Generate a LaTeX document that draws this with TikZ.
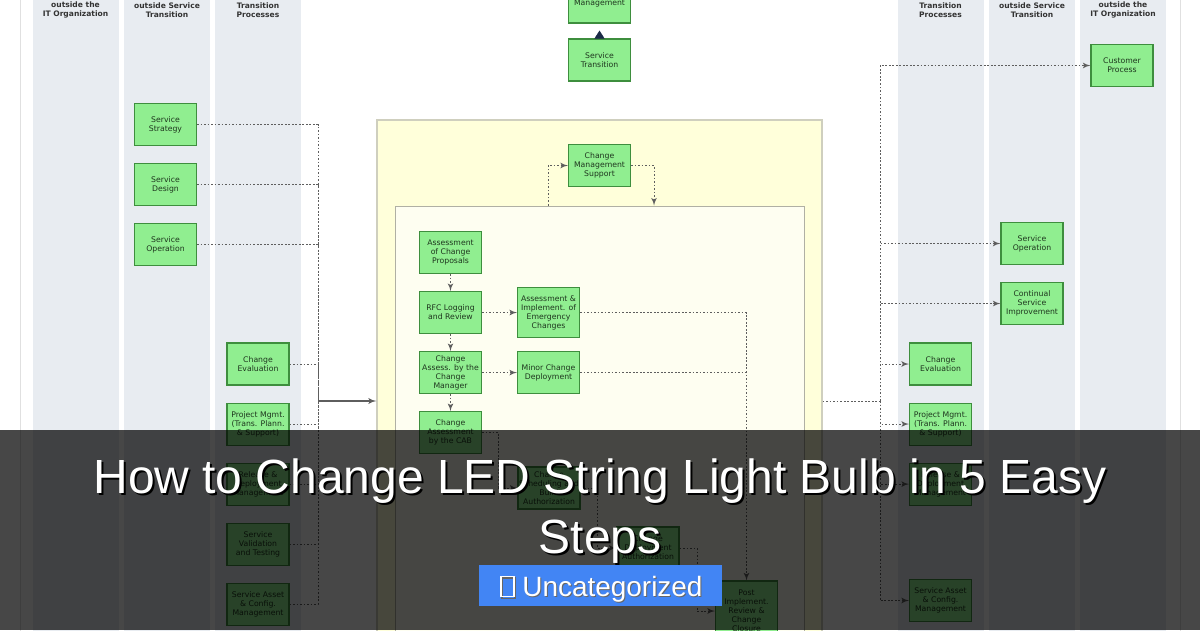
\documentclass[tikz,border=0pt]{standalone}
\usepackage{fontspec}
\setmainfont{DejaVu Sans}
\newfontfamily\titlefont{Liberation Sans}
\usepackage{tikz}
\usetikzlibrary{arrows,arrows.meta,positioning,calc}
\definecolor{colfill}{HTML}{E8ECF1}
\definecolor{boxgreen}{HTML}{90EE90}
\definecolor{boxline}{HTML}{3E8E3E}
\definecolor{boxtext}{HTML}{1E361E}
\definecolor{yellowbg}{HTML}{FFFFDA}
\definecolor{yellowline}{HTML}{CFCFBE}
\definecolor{innerbg}{HTML}{FEFEF1}
\definecolor{innerline}{HTML}{B0B0A4}
\definecolor{linkgray}{HTML}{5E5E5E}
\definecolor{navy}{HTML}{1B2A47}
\definecolor{badgeblue}{HTML}{4285F4}
\newcommand\tofubox{{\fboxrule=0.7pt\fboxsep=0pt\fbox{\rule{0pt}{0.68em}\hspace{0.42em}}}}

\begin{document}
\begin{tikzpicture}[x=0.02cm,y=-0.02cm,>=latex',node distance=0.34cm,
    proc/.style={draw=boxline,line width=0.6pt,fill=boxgreen,text=boxtext,minimum width=1.24cm,minimum height=0.84cm,inner sep=0.5pt,align=center,font=\fontsize{4.4}{5.1}\selectfont},
    head/.style={align=center,text=black!80,font=\fontsize{4.3}{5.1}\selectfont\bfseries},
    conn/.style={draw=linkgray,line width=0.5pt,dash pattern=on 1pt off 1pt},
    feed/.style={draw=linkgray,line width=0.6pt},
    titletxt/.style={anchor=base,text=white,font=\titlefont\fontsize{27.3}{34}\selectfont},
    titleshadow/.style={anchor=base,text=black,font=\titlefont\fontsize{27.3}{34}\selectfont}]
  \useasboundingbox (0,0) rectangle (1200,630);
  \clip (0,0) rectangle (1200,630);
  \fill[white] (0,0) rectangle (1200,630);
  \draw[black!12] (20,-5) rectangle (1180,640);
  % swimlanes
  \foreach \x in {33,124,215,898,989,1080}
    \fill[colfill] (\x,-5) rectangle +(86,645);
  \node[head] (h1) at (75.5,10) {outside the\\IT Organization};
  \node[head] (h2) at (167,10) {outside Service\\Transition};
  \node[head] (h3) at (258,10) {Transition\\Processes};
  \node[head] (h4) at (940.5,10) {Transition\\Processes};
  \node[head] (h5) at (1032,10) {outside Service\\Transition};
  \node[head] (h6) at (1123,10) {outside the\\IT Organization};

  % top
  \node[proc] (ism) at (599.5,2) {\mbox{}\\Management};
  \node[proc] (st) at (599.5,60) {Service\\Transition};
  \draw[navy,line width=0.3pt,-{Triangle[width=0.2cm,length=0.16cm]},shorten >=4pt,shorten <=2pt] (st.north) -- (ism.south);

  % change management area
  \node[draw=yellowline,line width=0.8pt,fill=yellowbg,minimum width=8.9cm,minimum height=10.8cm] (outer) at (599.5,390) {};
  \node[proc] (cms) at (599.5,165.5) {Change\\Management\\Support};
  \node[draw=innerline,line width=0.6pt,fill=innerbg,minimum width=8.2cm,minimum height=9.08cm] (inner) at (600,433) {};
  \draw[conn,->] ([xshift=-0.4cm]cms.west |- inner.north) |- (cms.west);
  \draw[conn,->] (cms.east) -| ([xshift=0.46cm]cms.east |- inner.north);

  \node[proc] (acp) at (450.5,252.5) {Assessment\\of Change\\Proposals};
  \node[proc,below=of acp] (rfc) {RFC Logging\\and Review};
  \node[proc,below=of rfc] (cam) {Change\\Assess. by the\\Change\\Manager};
  \node[proc,below=of cam] (cab) {Change\\Assessment\\by the CAB};
  \node[proc,right=0.7cm of rfc,minimum height=1cm] (emg) {Assessment \&\\Implement. of\\Emergency\\Changes};
  \node[proc,right=0.7cm of cam] (minor) {Minor Change\\Deployment};
  \node[proc] (sched) at (549,488) {Change\\Scheduling and\\Build\\Authorization};
  \node[proc] (deploy) at (648,548) {Change\\Deployment\\Authorization};
  \node[proc,minimum height=1.2cm] (pir) at (746.5,611) {Post\\Implement.\\Review \&\\Change\\Closure};

  \draw[conn,->] (acp) -- (rfc);
  \draw[conn,->] (rfc) -- (cam);
  \draw[conn,->] (cam) -- (cab);
  \draw[conn,->] (rfc) -- (emg);
  \draw[conn,->] (cam) -- (minor);
  \draw[conn,->] (emg.east) -| (pir.north);
  \draw[conn] (minor.east) -- (minor.east -| pir.north);
  \draw[conn,->] (cab.east) -| ([xshift=-0.38cm]sched.west) -- (sched.west);
  \draw[conn,->] (sched.east) -| ([xshift=-0.38cm]deploy.west) -- (deploy.west);
  \draw[conn,->] (deploy.east) -| ([xshift=-0.36cm]pir.west) -- (pir.west);

  % inputs
  \node[proc] (ss) at (165.5,124.5) {Service\\Strategy};
  \node[proc,below=of ss] (sd) {Service\\Design};
  \node[proc,below=of sd] (so) {Service\\Operation};
  \node[proc] (ce) at (258,364) {Change\\Evaluation};
  \node[proc,below=of ce] (pm) {Project Mgmt.\\(Trans. Plann.\\\& Support)};
  \node[proc,below=of pm] (rdm) {Release \&\\Deployment\\Management};
  \node[proc,below=of rdm] (svt) {Service\\Validation\\and Testing};
  \node[proc,below=of svt] (sacm) {Service Asset\\\& Config.\\Management};
  \coordinate (lbus) at (318,401);
  \foreach \n in {ss,sd,so,ce,pm,rdm,svt,sacm}
    \draw[conn] (\n.east) -| (lbus);
  \draw[feed,->] (lbus) -- (lbus -| outer.west);

  % outputs
  \node[proc] (cp) at (1122,65.5) {Customer\\Process};
  \node[proc] (so2) at (1032,243.5) {Service\\Operation};
  \node[proc,below=of so2] (csi) {Continual\\Service\\Improvement};
  \node[proc] (ce2) at (940.5,364) {Change\\Evaluation};
  \node[proc,below=of ce2] (pm2) {Project Mgmt.\\(Trans. Plann.\\\& Support)};
  \node[proc,below=of pm2] (rdm2) {Release \&\\Deployment\\Management};
  \node[proc] (sacm2) at (940.5,600.5) {Service Asset\\\& Config.\\Management};
  \coordinate (rbus) at (880,401);
  \draw[conn] (rbus -| outer.east) -- (rbus);
  \foreach \n in {cp,so2,csi,ce2,pm2,rdm2,sacm2}
    \draw[conn,->] (rbus) |- (\n.west);

  % overlay with title
  \fill[black,opacity=0.72] (0,430) rectangle (1200,630);
  \node[titleshadow] (s1) at (602,495) {How to Change LED String Light Bulb in 5 Easy};
  \node[titletxt] (t1) at (600,493) {How to Change LED String Light Bulb in 5 Easy};
  \node[titleshadow] (s2) at (602,555) {Steps};
  \node[titletxt] (t2) at (600,553) {Steps};
  \node[fill=badgeblue,minimum width=4.86cm,minimum height=0.82cm,inner sep=0pt] (cat) at (600.5,585.5) {};
  \node[anchor=base,text=black!60,font=\titlefont\fontsize{15.9}{18}\selectfont] (cats) at (602.5,597.5) {\tofubox\ Uncategorized};
  \node[anchor=base,text=white,font=\titlefont\fontsize{15.9}{18}\selectfont] (catt) at (601.5,596) {\tofubox\ Uncategorized};
\end{tikzpicture}
\end{document}
